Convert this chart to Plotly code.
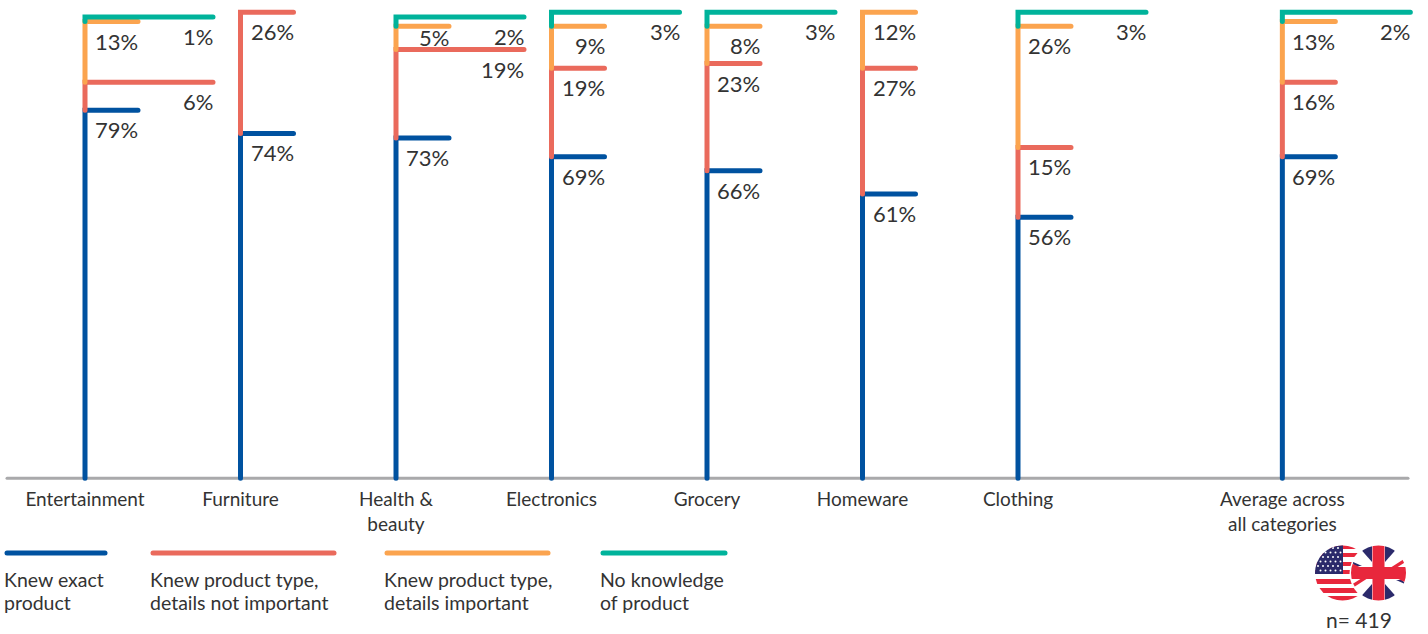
import base64
import plotly.graph_objects as go

W, H = 1428, 634

categories = ["Entertainment", "Furniture", "Health &<br>beauty", "Electronics", "Grocery",
              "Homeware", "Clothing", "Average across<br>all categories"]
slots = [0, 1, 2, 3, 4, 5, 6, 7.7]

exact = [79, 74, 73, 69, 66, 61, 56, 69]
type_not_important = [6, 26, 19, 19, 23, 27, 15, 16]
type_important = [13, 0, 5, 9, 8, 12, 26, 13]
no_knowledge = [1, 0, 2, 3, 3, 0, 3, 2]

series = [
    ("Knew exact<br>product", exact, "#0052a0", set()),
    ("Knew product type,<br>details not important", type_not_important, "#ea6a5c", {0, 2}),
    ("Knew product type,<br>details important", type_important, "#fba44f", set()),
    ("No knowledge<br>of product", no_knowledge, "#00b39b", {0, 2, 3, 4, 6, 7}),
]
legend_spans = [(7, 105), (153, 334), (387, 548), (603, 725)]

TEXT = "#333333"
FONT = "Lato"
AXIS_LEFT, AXIS_RIGHT = 7, 1408
UNIT_PX = 4.66
ZERO_PX = 478.3
FIRST_PX, SLOT_PX = 85, 155.5
SHORT, LONG = 53 / SLOT_PX, 128 / SLOT_PX


def px(v):
    return v / W


def py(v):
    return 1 - v / H


fig = go.Figure()
annotations = []
below = [0] * len(categories)

# Each column stacks its shares: a vertical run per segment, with a flag at its top.
for name, values, color, wide in series:
    xs, ys = [], []
    for i, v in enumerate(values):
        if not v:
            continue
        y0, y1 = below[i], below[i] + v
        reach = LONG if i in wide else SHORT
        xs += [slots[i], slots[i], slots[i] + reach, None]
        ys += [y0, y1, y1, None]
        # Thin segments pull their label up so it clears the next flag down
        tight = v <= 5 and reach == SHORT
        annotations.append(dict(
            x=slots[i] + reach, y=y1, xref="x", yref="y", text=f"{v}%", showarrow=False,
            xanchor="right", yanchor="top", yshift=4 if tight else -4, xshift=2,
            font=dict(family=FONT, size=22, color=TEXT)))
        below[i] = y1
    fig.add_trace(go.Scatter(x=xs, y=ys, mode="lines", name=name.replace("<br>", " "),
                             line=dict(color=color, width=5), cliponaxis=False,
                             showlegend=False, hoverinfo="skip"))

# Baseline runs short of the canvas on both sides
shapes = [dict(type="line", xref="paper", yref="y", x0=px(AXIS_LEFT), x1=px(AXIS_RIGHT),
               y0=0, y1=0, layer="below", line=dict(color="#a9a9ab", width=3))]

# Hand-built key underneath the axis
for (name, _, color, _), (x0, x1) in zip(series, legend_spans):
    shapes.append(dict(type="line", xref="paper", yref="paper", x0=px(x0), x1=px(x1),
                       y0=py(553), y1=py(553), line=dict(color=color, width=5)))
    for line_y, line in zip((579, 602), name.split("<br>")):
        annotations.append(dict(
            x=px(x0), y=py(line_y), xref="paper", yref="paper", text=line, showarrow=False,
            xanchor="left", yanchor="middle", align="left", xshift=-5,
            font=dict(family=FONT, size=19.5, color=TEXT)))

annotations.append(dict(x=px(1359), y=py(619.5), xref="paper", yref="paper", text="n= 419",
                        showarrow=False, xanchor="center", yanchor="middle",
                        font=dict(family=FONT, size=21, color=TEXT)))

# Overlapping US and UK roundels
flags_svg = """<svg xmlns='http://www.w3.org/2000/svg' width='92' height='56' viewBox='0 0 92 56'>
<defs><clipPath id='a'><circle cx='27.5' cy='28' r='27.5'/></clipPath>
<clipPath id='b'><circle cx='63.5' cy='28' r='27.5'/></clipPath></defs>
<g clip-path='url(#a)'><rect width='60' height='56' fill='#fff'/>
<g fill='#e8273c'><rect y='0' width='60' height='4'/><rect y='8' width='60' height='4'/>
<rect y='17' width='60' height='4'/><rect y='25' width='60' height='4'/>
<rect y='34' width='60' height='5'/><rect y='43' width='60' height='5'/><rect y='51' width='60' height='5'/></g>
<rect width='28' height='29' fill='#2b2a6b'/>
<g fill='#fff'>STARS</g></g>
<circle cx='63.5' cy='28' r='29' fill='#fff'/>
<g clip-path='url(#b)'><rect x='36' width='56' height='56' fill='#fff'/>
<polygon points='42,0 57,0 57,17' fill='#2b2a6b'/><polygon points='70,0 85,0 70,17' fill='#2b2a6b'/>
<polygon points='42,56 57,56 57,39' fill='#2b2a6b'/><polygon points='70,56 85,56 70,39' fill='#2b2a6b'/>
<polygon points='36,16 47,21 40,21' fill='#2b2a6b'/><polygon points='92,40 81,35 87,35' fill='#2b2a6b'/>
<polygon points='36,22 36,18 47,23 53,23' fill='#e8273c'/><polygon points='92,34 92,38 81,33 75,33' fill='#e8273c'/>
<polygon points='75,23 92,12 92,16 81,23' fill='#e8273c'/><polygon points='53,33 36,44 36,40 47,33' fill='#e8273c'/>
<rect x='57.5' width='12' height='56' fill='#e8273c'/><rect x='36' y='22' width='56' height='12' fill='#e8273c'/></g>
</svg>"""
stars = "".join(f"<circle cx='{3 + c * 5 + (r % 2) * 2.5}' cy='{3 + r * 4.5}' r='1'/>"
                for r in range(6) for c in range(5))
flags_svg = flags_svg.replace("STARS", stars)
flags_uri = "data:image/svg+xml;base64," + base64.b64encode(flags_svg.encode()).decode()

fig.update_layout(
    width=W, height=H, autosize=False, showlegend=False,
    paper_bgcolor="white", plot_bgcolor="white",
    margin=dict(l=0, r=0, t=0, b=0, pad=0),
    font=dict(family=FONT, color=TEXT),
    shapes=shapes,
    annotations=annotations,
    images=[dict(source=flags_uri, xref="paper", yref="paper", x=px(1315), y=py(545),
                 sizex=92 / W, sizey=56 / H,
                 xanchor="left", yanchor="top", sizing="stretch", layer="above")],
    xaxis=dict(
        range=[-FIRST_PX / SLOT_PX, (W - FIRST_PX) / SLOT_PX],
        anchor="free", position=py(ZERO_PX + 1),
        tickmode="array", tickvals=slots, ticktext=categories, ticks="",
        ticklabelstandoff=7, automargin=False,
        showgrid=False, zeroline=False, showline=False,
        tickfont=dict(family=FONT, size=19, color=TEXT)),
    yaxis=dict(range=[(ZERO_PX - H) / UNIT_PX, ZERO_PX / UNIT_PX], automargin=False,
               visible=False, showgrid=False, zeroline=False),
)

# Rounded ends on the flags and key swatches
round_caps = """
document.querySelectorAll('.js-line, .shapelayer path').forEach(function (el) {
  el.style.strokeLinecap = 'round';
});
"""
fig.write_html("out.html", post_script=round_caps)
